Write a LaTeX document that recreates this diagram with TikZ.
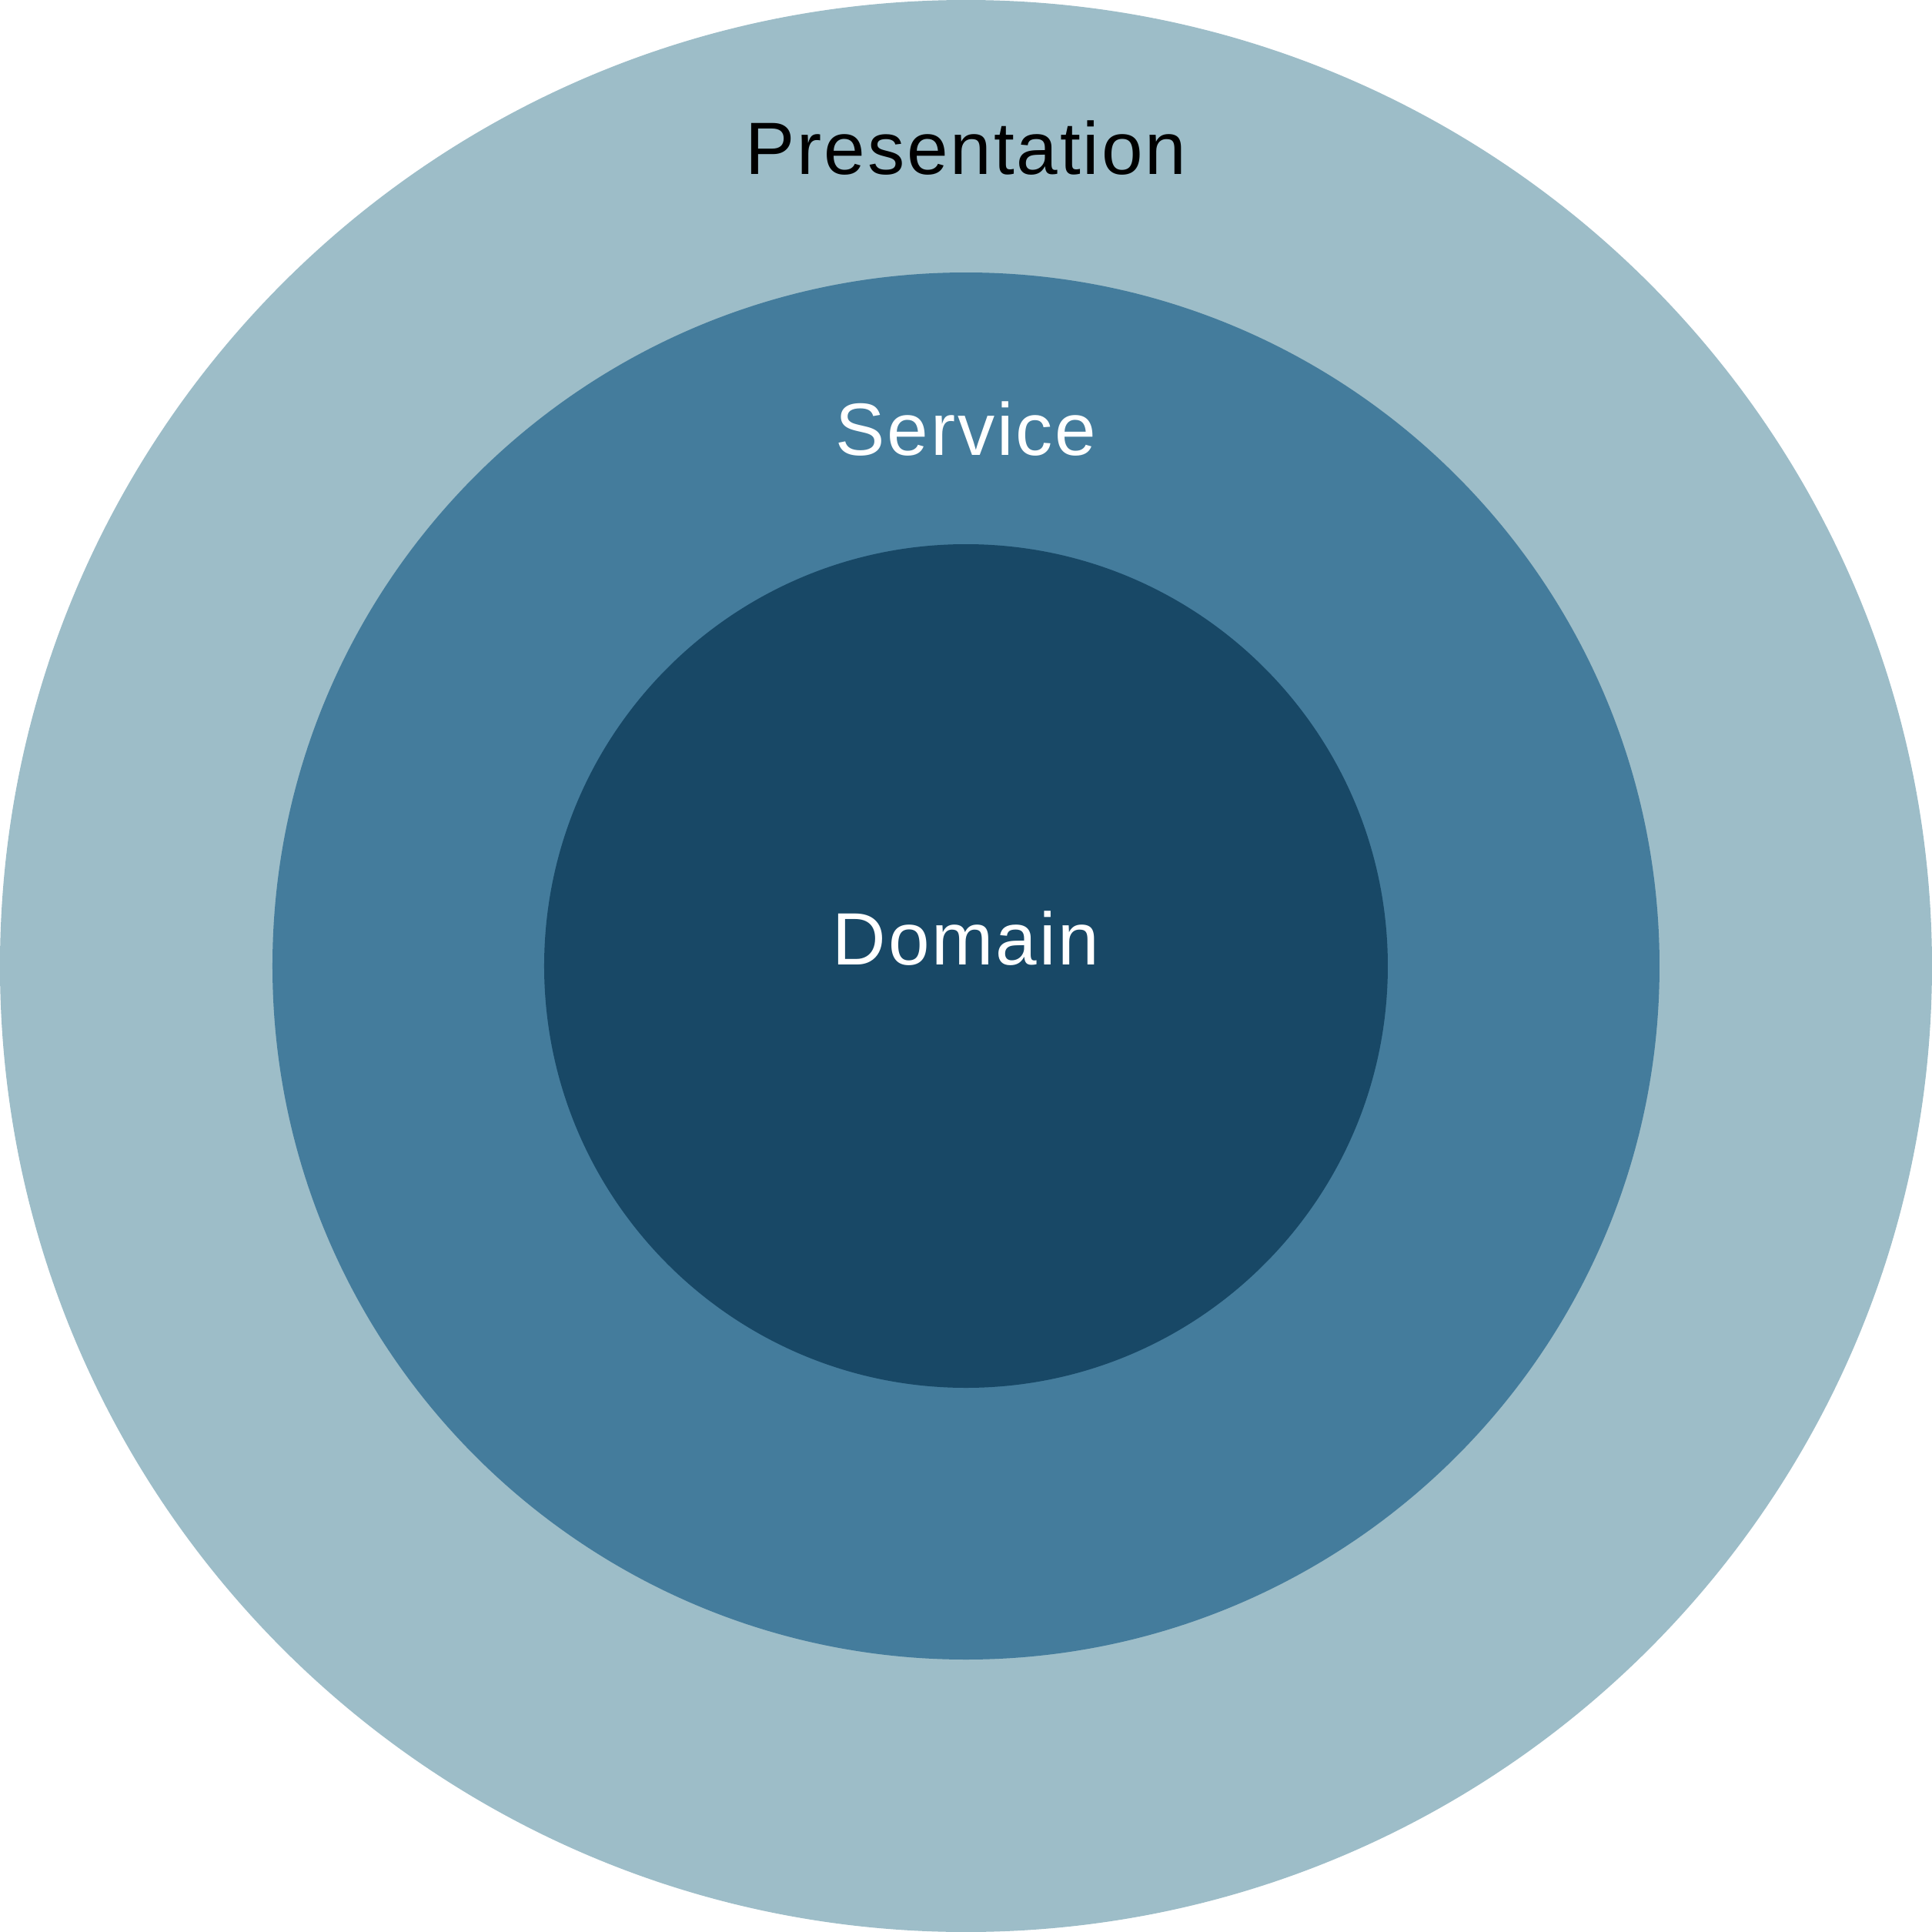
\documentclass[tikz,border=0pt]{standalone}
\usepackage{fontspec}
\setmainfont{Liberation Sans}[LetterSpace=3]
\definecolor{ringout}{HTML}{9DBDC8}
\definecolor{ringmid}{HTML}{447C9C}
\definecolor{ringin}{HTML}{184866}
\begin{document}
\begin{tikzpicture}[x=1cm,y=1cm,
  lbl/.style={anchor=base, font=\fontsize{27.4pt}{30pt}\selectfont, inner sep=0pt}]
\useasboundingbox (-12.55,-12.55) rectangle (12.55,12.55);
\fill[ringout] (0,0) circle (12.55);
\fill[ringmid] (0,0) circle (9.01);
\fill[ringin] (0,0) circle (5.48);
\node[lbl, text=black] (pres) at (0,10.29) {Presentation};
\node[lbl, text=white] (serv) at (0,6.64) {Service};
\node[lbl, text=white] (dom) at (0,0.02) {Domain};
\end{tikzpicture}
\end{document}
